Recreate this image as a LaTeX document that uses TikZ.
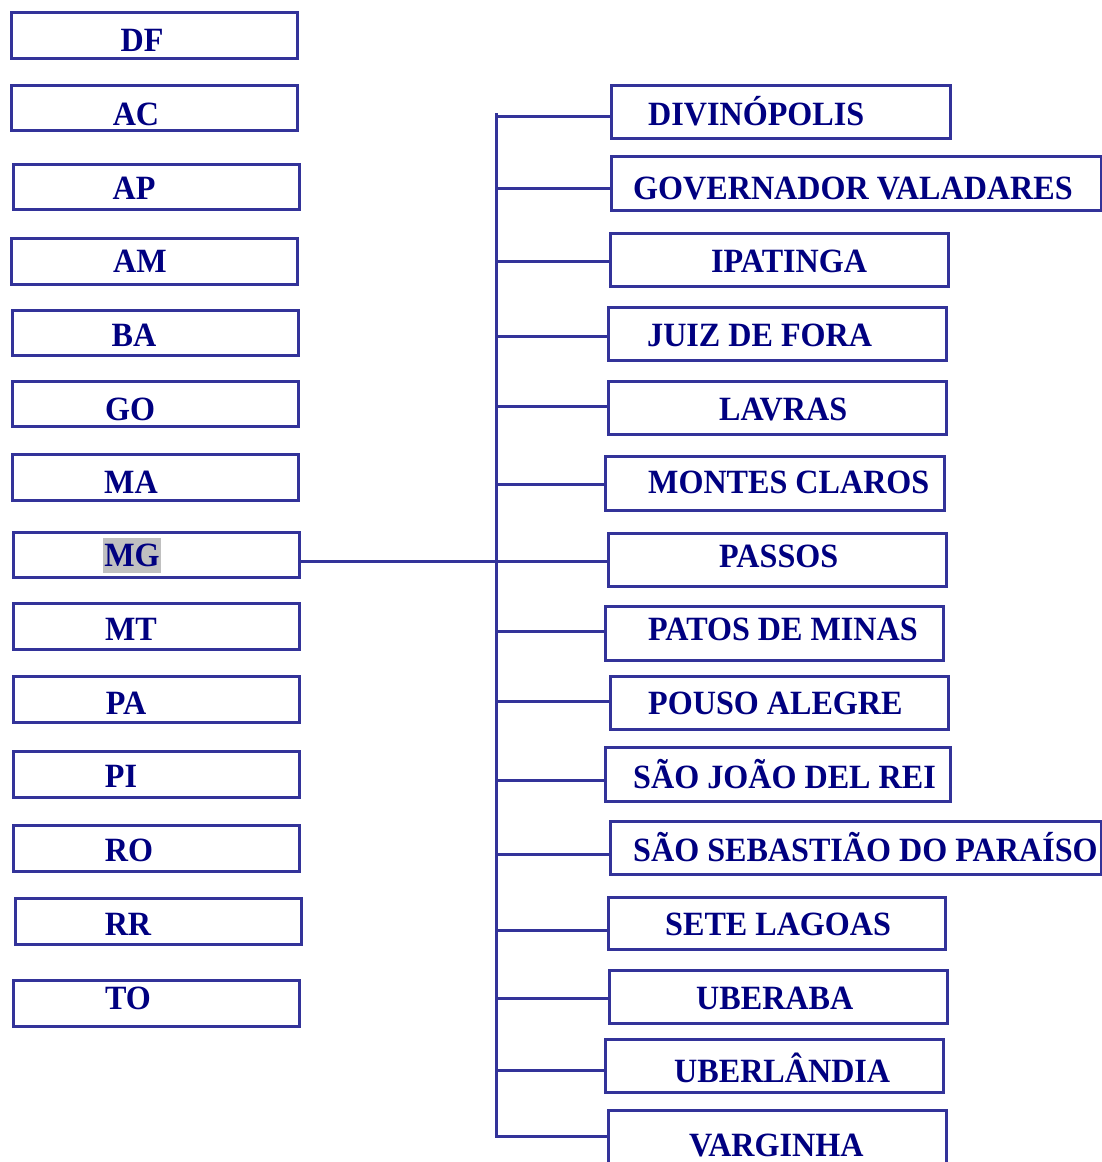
\documentclass[tikz,border=0pt]{standalone}
\usepackage{fontspec}
\setmainfont{Liberation Serif}[FakeStretch=0.945]
\definecolor{boxblue}{RGB}{51,51,153}
\definecolor{txtnavy}{RGB}{0,0,128}
\definecolor{hl}{RGB}{192,192,192}
\tikzset{
  bx/.style={draw=boxblue, line width=3pt, inner sep=0pt, outer sep=0pt, rectangle},
  lbl/.style={text=txtnavy, font=\fontsize{34}{40}\selectfont\bfseries, inner sep=0pt},
  conn/.style={draw=boxblue, line width=3pt}
}
\newcommand\bx[5]{\node[bx, minimum width={(#4)-(#2)-3}, minimum height={(#5)-(#3)-3}] (#1) at ({((#2)+(#4))/2},{((#3)+(#5))/2}) {};}
\newcommand\lt[4]{\node[lbl, anchor=base] (#1) at (#2,{(#3)+11}) {#4};}
\newcommand\rt[4]{\node[lbl, anchor=base west] (#1) at (#2,{(#3)+11}) {#4};}
\begin{document}
\begin{tikzpicture}[x=1pt,y=-1pt]
\useasboundingbox (0,0) rectangle (1102,1162);
\clip (0,0) rectangle (1102,1162);
% left boxes
\bx{bDF}{10}{11}{299}{60}
\bx{bAC}{10}{84}{299}{132}
\bx{bAP}{12}{163}{301}{211}
\bx{bAM}{10}{237}{299}{286}
\bx{bBA}{11}{309}{300}{357}
\bx{bGO}{11}{380}{300}{428}
\bx{bMA}{11}{453}{300}{502}
\bx{bMG}{12}{531}{301}{579}
\bx{bMT}{12}{602}{301}{651}
\bx{bPA}{12}{675}{301}{724}
\bx{bPI}{12}{750}{301}{799}
\bx{bRO}{12}{824}{301}{873}
\bx{bRR}{14}{897}{303}{946}
\bx{bTO}{12}{979}{301}{1028}
\lt{tDF}{142}{40}{DF}
\lt{tAC}{136}{114}{AC}
\lt{tAP}{134}{188}{AP}
\lt{tAM}{140}{261}{AM}
\lt{tBA}{134}{335}{BA}
\lt{tGO}{130}{409}{GO}
\lt{tMA}{131}{482}{MA}
\node[lbl, anchor=base, fill=hl, text height=28pt, text depth=7pt, inner xsep=1pt] (tMG) at (132,566) {MG};
\lt{tMT}{131}{629}{MT}
\lt{tPA}{126}{703}{PA}
\lt{tPI}{121}{776}{PI}
\lt{tRO}{129}{850}{RO}
\lt{tRR}{128}{924}{RR}
\lt{tTO}{128}{998}{TO}
% right boxes
\bx{r1}{610}{84}{952}{140}
\bx{r2}{610}{155}{1103}{212}
\bx{r3}{609}{232}{950}{288}
\bx{r4}{607}{306}{948}{362}
\bx{r5}{607}{380}{948}{436}
\bx{r6}{604}{455}{946}{512}
\bx{r7}{607}{532}{948}{588}
\bx{r8}{604}{605}{945}{662}
\bx{r9}{609}{675}{950}{731}
\bx{r10}{604}{746}{952}{803}
\bx{r11}{609}{820}{1103}{876}
\bx{r12}{607}{896}{947}{951}
\bx{r13}{608}{969}{949}{1025}
\bx{r14}{604}{1038}{945}{1094}
\bx{r15}{607}{1109}{948}{1180}
\rt{s1}{648}{114}{DIVINÓPOLIS}
\rt{s2}{633}{188}{GOVERNADOR VALADARES}
\rt{s3}{711}{261}{IPATINGA}
\rt{s4}{647}{335}{JUIZ DE FORA}
\rt{s5}{719}{409}{LAVRAS}
\rt{s6}{648}{482}{MONTES CLAROS}
\rt{s7}{719}{556}{PASSOS}
\rt{s8}{648}{629}{PATOS DE MINAS}
\rt{s9}{648}{703}{POUSO ALEGRE}
\rt{s10}{633}{777}{SÃO JOÃO DEL REI}
\rt{s11}{633}{850}{SÃO SEBASTIÃO DO PARAÍSO}
\rt{s12}{665}{924}{SETE LAGOAS}
\rt{s13}{696}{998}{UBERABA}
\rt{s14}{674}{1071}{UBERLÂNDIA}
\rt{s15}{689}{1145}{VARGINHA}
% trunk
\coordinate (ttop) at (496,113);
\coordinate (tbot) at (496,1138);
\draw[conn] (ttop) -- (tbot);
\foreach \i/\yy in {1/116,2/188,3/261,4/336,5/406,6/484,8/631,9/701,10/780,11/854,12/930,13/998,14/1070,15/1136}{
  \coordinate (j\i) at (496,\yy);
  \draw[conn] (j\i) -- (j\i -| r\i.west);
}
\coordinate (j7) at (496,561);
\draw[conn] (j7 -| bMG.east) -- (j7 -| r7.west);
\end{tikzpicture}
\end{document}
